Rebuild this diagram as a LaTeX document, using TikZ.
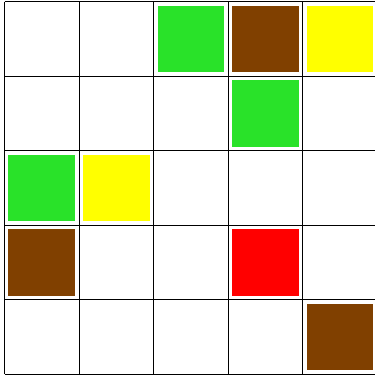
\documentclass[tikz,border=0pt]{standalone}
\definecolor{cgreen}{RGB}{41,226,41}
\definecolor{cbrown}{RGB}{128,64,0}
\definecolor{cyellow}{RGB}{255,255,0}
\definecolor{cred}{RGB}{255,0,0}
\tikzset{gridline/.style={draw=black,line width=1pt},
  tile/.style={line width=0pt}}
\begin{document}
\begin{tikzpicture}[x=1pt,y=-1pt]
\useasboundingbox (0,0) rectangle (375,376);
\fill[white] (0,0) rectangle (375,376);
% tiles: col,row,color
\foreach \c/\r/\col in {2/0/cgreen,3/0/cbrown,4/0/cyellow,3/1/cgreen,0/2/cgreen,1/2/cyellow,0/3/cbrown,3/3/cred,4/4/cbrown}{
  \fill[\col] ({4.5+74.5*\c+4},{1.5+74.5*\r+4}) rectangle ++(66.5,66.5);
}
\foreach \i in {0,...,5}{
  \draw[gridline] ({4.5+74.5*\i},1.5) -- ({4.5+74.5*\i},374);
  \draw[gridline] (4.5,{1.5+74.5*\i}) -- (377,{1.5+74.5*\i});
}
\end{tikzpicture}
\end{document}
